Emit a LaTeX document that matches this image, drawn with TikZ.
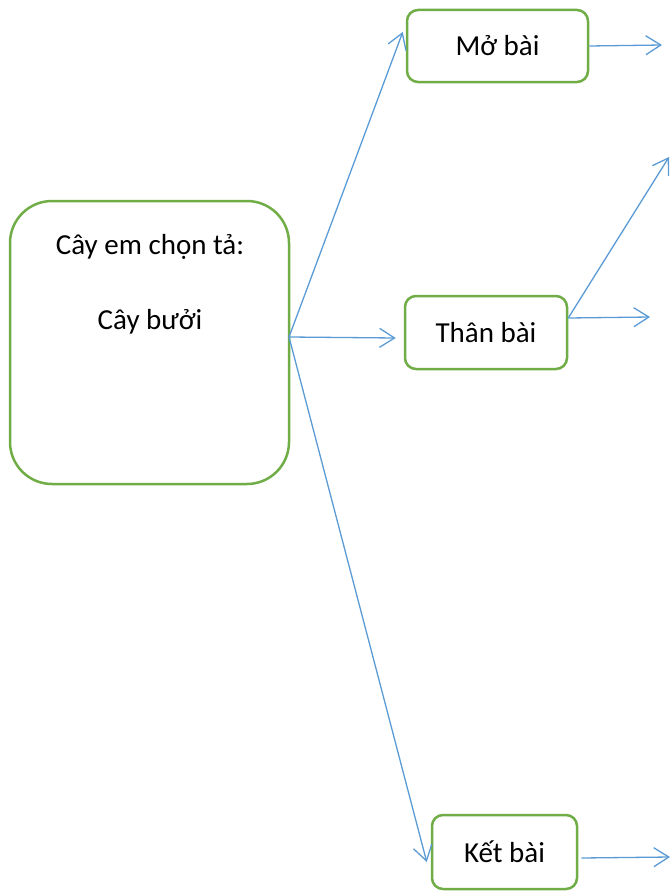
\documentclass[tikz,border=0pt]{standalone}
\usepackage{fontspec}
\setmainfont{Carlito}
\usetikzlibrary{arrows.meta}
\definecolor{boxgreen}{HTML}{70AD47}
\definecolor{arrblue}{HTML}{5B9BD5}
\begin{document}
\begin{tikzpicture}[x=1pt,y=-1pt,
  box/.style={draw=boxgreen, line width=2.5pt, rounded corners=11pt, inner sep=0pt, fill=white,
    font=\fontsize{29}{34}\selectfont},
  conn/.style={draw=arrblue, line width=1.3pt, -{Straight Barb[length=15pt,width=19pt]}},
  lbl/.style={font=\fontsize{29}{34}\selectfont, inner sep=0pt}]
\useasboundingbox (0,0) rectangle (670,891);
\node[box, minimum width=279pt, minimum height=283pt, rounded corners=42pt] (main) at (149.5,342.5) {};
\node[lbl] (t1) at (150,247) {Cây em chọn tả:};
\node[lbl] (t2) at (150,322) {Cây bưởi};
\node[box, minimum width=181pt, minimum height=72pt] (mo) at (497.5,46) {Mở bài};
\node[box, minimum width=162pt, minimum height=73pt] (tb) at (486,332.5) {Thân bài};
\node[box, minimum width=145pt, minimum height=74pt] (kb) at (504.5,852) {Kết bài};
\coordinate (o) at (289,337);
\coordinate (mout) at (662,45);
\coordinate (tout1) at (669,157);
\coordinate (tout2) at (650,317);
\coordinate (kout) at (670,857);
\draw[conn] (o) -- ([shift={(-3,-14)}]mo.west);
\draw[conn] (o) -- ([shift={(-8,5.5)}]tb.west);
\draw[conn] (o) -- ([shift={(-4,10)}]kb.west);
\draw[conn] (mo.east) -- (mout);
\draw[conn] ([shift={(0,-14.5)}]tb.east) -- (tout1);
\draw[conn] ([shift={(0,-14.5)}]tb.east) -- (tout2);
\draw[conn] ([shift={(3,6)}]kb.east) -- (kout);
\end{tikzpicture}
\end{document}
